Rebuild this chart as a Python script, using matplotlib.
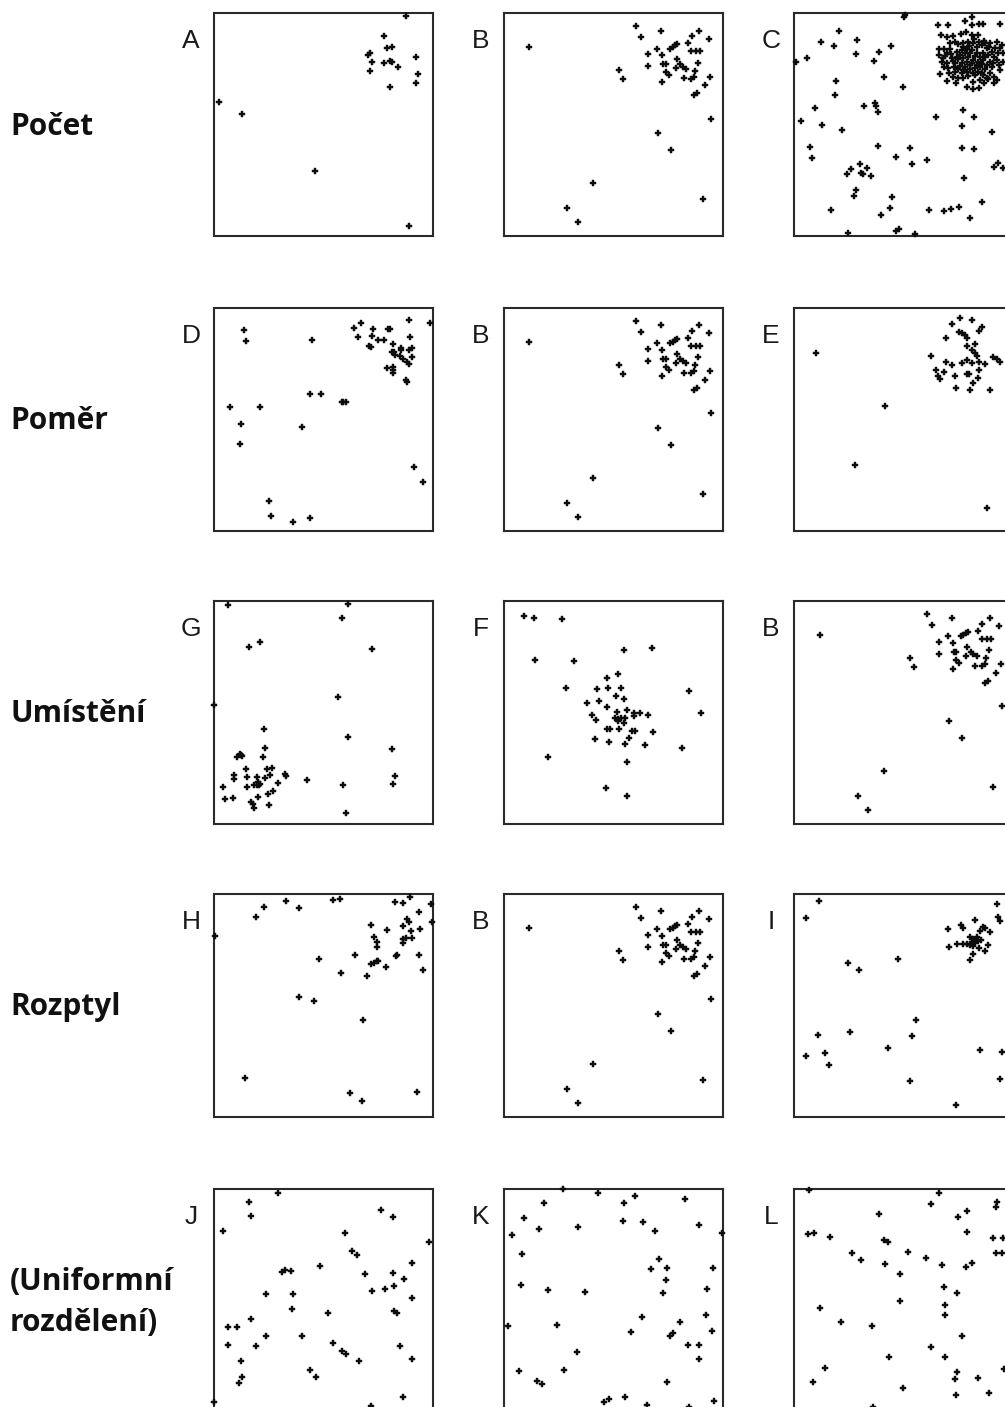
import matplotlib
matplotlib.use("Agg")
import matplotlib.pyplot as plt

row_labels = ["Počet", "Poměr", "Umístění", "Rozptyl", "(Uniformní\nrozdělení)"]
panel_grid = [["A", "B", "C"],
              ["D", "B", "E"],
              ["G", "F", "B"],
              ["H", "B", "I"],
              ["J", "K", "L"]]

A_pts = [(588, 18), (521, 78), (530, 115), (547, 110), (474, 135), (480, 130), (487, 157),
         (521, 160), (541, 153), (547, 157), (565, 170), (617, 140), (481, 183), (625, 191),
         (617, 220), (539, 231), (28, 277), (96, 312), (315, 484), (598, 647)]

B_pts = [(408, 49), (483, 62), (597, 62), (424, 82), (575, 78), (626, 86), (88, 111), (563, 99),
         (472, 116), (510, 116), (518, 112), (526, 106), (532, 102), (445, 132), (486, 136),
         (573, 124), (588, 124), (600, 124), (530, 148), (444, 168), (490, 162), (497, 162),
         (541, 163), (548, 170), (558, 176), (527, 174), (594, 158), (497, 186), (506, 196),
         (586, 182), (358, 181), (370, 207), (552, 205), (573, 206), (582, 200), (487, 215),
         (631, 200), (616, 225), (583, 256), (592, 250), (634, 326), (474, 369), (514, 421),
         (279, 519), (608, 568), (202, 594), (233, 637)]

C_pts = [(342, 20), (345, 15), (445, 45), (473, 45), (524, 32), (545, 20), (547, 45), (567, 43),
         (580, 41), (630, 43), (146, 63), (93, 96), (133, 107), (201, 91), (198, 131), (266, 127),
         (253, 152), (304, 107), (52, 143), (17, 156), (138, 213), (134, 254), (283, 202),
         (340, 232), (76, 295), (223, 287), (255, 278), (258, 288), (263, 305), (32, 333),
         (97, 345), (157, 359), (437, 321), (520, 300), (553, 322), (515, 347), (606, 367),
         (60, 411), (65, 445), (263, 409), (360, 413), (318, 440), (367, 463), (410, 449),
         (516, 413), (552, 417), (611, 471), (625, 459), (640, 473), (182, 478), (170, 492),
         (210, 461), (230, 475), (214, 489), (220, 492), (243, 497), (521, 504), (198, 539),
         (193, 557), (307, 562), (123, 599), (300, 594), (273, 614), (417, 600), (463, 604),
         (484, 597), (506, 590), (575, 576), (540, 623), (173, 668), (318, 662), (327, 658),
         (375, 673),
         # dense cluster
         (452, 75), (470, 80), (490, 78), (512, 72), (528, 65), (545, 75), (565, 76), (582, 92),
         (600, 100), (620, 95), (635, 105), (446, 116), (462, 118), (480, 100), (495, 95),
         (505, 103), (520, 98), (535, 95), (550, 100), (560, 110), (575, 105), (590, 115),
         (605, 125), (625, 130), (640, 128), (448, 135), (465, 138), (483, 132), (500, 125),
         (515, 120), (530, 118), (545, 120), (560, 130), (578, 130), (595, 135), (612, 140),
         (455, 155), (470, 160), (490, 152), (505, 148), (520, 145), (535, 140), (550, 150),
         (565, 155), (580, 150), (600, 155), (620, 150), (640, 155), (475, 175), (492, 170),
         (510, 168), (525, 170), (540, 165), (555, 175), (570, 170), (585, 178), (605, 172),
         (630, 180), (450, 192), (478, 190), (495, 185), (515, 188), (530, 185), (548, 190),
         (565, 185), (580, 195), (600, 190), (472, 212), (497, 218), (520, 205), (550, 215),
         (570, 210), (595, 208), (612, 220), (550, 238), (568, 233),
         (510, 135), (525, 130), (540, 130), (555, 138), (570, 140), (585, 142), (500, 140),
         (515, 158), (530, 155), (545, 160), (560, 165), (575, 162), (590, 165), (610, 160),
         (485, 145), (495, 160), (538, 108), (552, 88), (568, 95), (585, 100), (597, 112),
         (615, 115), (630, 115), (470, 130), (460, 145), (480, 118), (520, 112), (505, 178),
         (520, 180), (540, 178), (555, 195), (575, 188), (590, 205), (612, 200), (628, 165),
         (462, 170), (488, 200), (535, 198), (582, 218), (530, 230), (505, 205), (620, 210)]

D_pts = [(102, 82), (107, 114), (305, 110), (433, 74), (454, 59), (488, 79), (443, 103),
         (487, 99), (504, 112), (521, 110), (534, 78), (539, 79), (597, 50), (660, 60),
         (600, 101), (477, 130), (482, 133), (550, 122), (573, 134), (572, 142), (605, 134),
         (597, 141), (545, 148), (551, 146), (556, 155), (570, 160), (580, 168), (606, 162),
         (590, 178), (596, 184), (532, 196), (550, 192), (549, 200), (550, 210), (587, 230),
         (592, 236), (300, 272), (334, 273), (395, 296), (400, 297), (407, 297), (59, 313),
         (151, 312), (92, 363), (277, 373), (91, 423), (612, 493), (640, 537), (177, 594),
         (182, 638), (300, 646), (250, 657)]

E_pts = [(510, 44), (545, 52), (487, 63), (577, 71), (567, 84), (506, 88), (516, 90), (525, 96),
         (530, 105), (469, 106), (77, 151), (531, 130), (556, 122), (545, 140), (555, 150),
         (560, 158), (423, 160), (610, 163), (620, 168), (630, 178), (468, 176), (485, 186),
         (515, 180), (530, 170), (545, 180), (568, 177), (585, 184), (438, 202), (463, 206),
         (445, 218), (450, 228), (495, 218), (530, 212), (536, 212), (566, 200), (565, 226),
         (550, 239), (498, 254), (539, 261), (600, 261), (286, 309), (196, 487), (591, 614)]

G_pts = [(53, 24), (413, 22), (395, 64), (118, 149), (151, 136), (487, 156), (13, 325),
         (384, 300), (162, 396), (413, 421), (165, 452), (547, 457), (89, 470), (95, 478),
         (80, 480), (92, 475), (158, 480), (107, 516), (170, 517), (187, 514), (224, 531),
         (228, 537), (71, 534), (72, 546), (110, 540), (180, 535), (165, 543), (140, 540),
         (145, 555), (150, 560), (133, 564), (140, 563), (147, 563), (205, 557), (292, 548),
         (398, 564), (556, 536), (548, 561), (40, 569), (111, 569), (190, 583), (173, 592),
         (45, 606), (70, 604), (143, 600), (123, 615), (128, 620), (133, 634), (177, 623),
         (407, 648)]

F_pts = [(72, 57), (102, 64), (186, 67), (373, 160), (456, 153), (105, 188), (222, 191),
         (322, 243), (355, 231), (197, 272), (292, 275), (325, 274), (364, 273), (568, 281),
         (349, 298), (372, 305), (298, 312), (260, 318), (322, 329), (381, 340), (350, 346),
         (403, 348), (420, 348), (444, 354), (275, 354), (289, 368), (345, 362), (353, 366),
         (364, 363), (376, 362), (355, 372), (371, 378), (403, 357), (604, 348), (320, 396),
         (330, 396), (356, 396), (396, 401), (404, 403), (459, 405), (386, 423), (286, 426),
         (327, 436), (376, 441), (434, 443), (545, 453), (145, 480), (380, 494), (319, 572),
         (380, 597)]

H_pts = [(15, 137), (139, 81), (162, 52), (229, 34), (266, 55), (370, 31), (391, 27), (600, 21),
         (556, 37), (578, 39), (663, 41), (628, 65), (665, 97), (590, 87), (597, 96), (578, 108),
         (482, 105), (530, 120), (604, 123), (629, 118), (491, 141), (502, 157), (501, 170),
         (580, 148), (588, 143), (605, 143), (578, 160), (436, 195), (558, 197), (560, 196),
         (627, 194), (326, 207), (484, 221), (491, 219), (500, 214), (505, 212), (528, 230),
         (640, 239), (394, 248), (471, 258), (268, 320), (311, 334), (459, 390), (105, 565),
         (420, 608), (457, 634), (621, 606)]

I_pts = [(88, 32), (48, 85), (620, 43), (623, 82), (630, 94), (474, 116), (513, 106), (520, 113),
         (556, 90), (578, 110), (585, 115), (570, 122), (599, 126), (540, 142), (550, 148),
         (560, 140), (565, 152), (572, 150), (500, 163), (520, 163), (530, 163), (540, 165),
         (548, 168), (555, 160), (545, 155), (478, 172), (593, 165), (568, 175), (586, 184),
         (549, 193), (541, 211), (174, 218), (206, 240), (324, 208), (378, 391), (83, 436),
         (179, 425), (366, 438), (293, 474), (48, 497), (105, 488), (118, 524), (569, 481),
         (637, 485), (359, 573), (629, 566), (498, 645)]

J_pts = [(203, 27), (117, 53), (122, 97), (514, 77), (548, 98), (38, 140), (406, 147), (657, 173),
         (425, 200), (441, 214), (329, 245), (606, 238), (217, 264), (224, 257), (243, 260),
         (464, 270), (548, 267), (582, 286), (551, 305), (526, 316), (485, 320), (169, 330),
         (249, 330), (606, 342), (247, 374), (354, 388), (552, 381), (562, 387), (124, 405),
         (54, 428), (80, 430), (168, 455), (276, 457), (53, 482), (138, 485), (369, 477),
         (397, 500), (409, 509), (570, 486), (448, 531), (607, 524), (94, 530), (301, 558),
         (318, 578), (95, 578), (87, 596), (579, 640), (12, 655), (483, 665)]

K_pts = [(189, 14), (293, 27), (406, 35), (556, 45), (131, 58), (372, 58), (73, 103), (117, 135),
         (235, 128), (369, 112), (430, 115), (597, 123), (37, 152), (466, 142), (665, 146),
         (65, 211), (478, 225), (453, 254), (501, 253), (640, 252), (497, 288), (63, 304),
         (143, 318), (256, 323), (489, 327), (620, 314), (425, 398), (541, 413), (617, 392),
         (25, 425), (172, 422), (393, 444), (510, 456), (518, 448), (636, 441), (565, 483),
         (596, 482), (232, 503), (598, 525), (58, 561), (193, 559), (111, 592), (126, 601),
         (502, 594), (312, 653), (327, 646), (374, 638), (441, 664), (643, 652), (568, 668)]

L_pts = [(58, 17), (448, 27), (620, 53), (618, 69), (423, 61), (267, 89), (530, 80), (503, 98),
         (53, 150), (72, 147), (120, 159), (282, 169), (293, 175), (530, 144), (609, 162),
         (640, 163), (187, 208), (214, 229), (353, 204), (408, 221), (618, 208), (635, 208),
         (284, 240), (456, 244), (527, 250), (545, 236), (329, 271), (461, 310), (501, 326),
         (330, 352), (466, 362), (91, 373), (466, 392), (154, 413), (247, 426), (517, 455),
         (424, 490), (297, 518), (466, 520), (106, 553), (501, 563), (494, 585), (565, 581),
         (643, 555), (68, 593), (340, 611), (498, 633), (597, 626), (250, 668)]

panel_points = {"A": A_pts, "B": B_pts, "C": C_pts, "D": D_pts, "E": E_pts, "F": F_pts,
                "G": G_pts, "H": H_pts, "I": I_pts, "J": J_pts, "K": K_pts, "L": L_pts}

# origin of each panel's frame (top-left corner) in the digitising units
panel_origin = {"A": (12, 10), "B": (10, 10), "C": (12, 10), "D": (12, 15), "E": (12, 15),
                "F": (10, 12), "G": (12, 12), "H": (12, 12), "I": (12, 12), "J": (12, 15),
                "K": (10, 15), "L": (12, 15)}
FRAME_W, FRAME_H = 658, 668   # frame size in digitising units

# ---------------- layout (pixels) ----------------
W_PX, H_PX, DPI = 1005, 1407, 100
col_left = [214, 503.5, 794]
row_top = [13.3, 308, 601, 894, 1189]
ax_w, ax_h = 219.3, 222.7

fig = plt.figure(figsize=(W_PX / DPI, H_PX / DPI), dpi=DPI)
fig.patch.set_facecolor("white")

for r, row in enumerate(panel_grid):
    for c, name in enumerate(row):
        left = col_left[c] / W_PX
        bottom = 1 - (row_top[r] + ax_h) / H_PX
        ax = fig.add_axes([left, bottom, ax_w / W_PX, ax_h / H_PX])
        pts = panel_points[name]
        xs = [p[0] for p in pts]
        ys = [p[1] for p in pts]
        ax.scatter(xs, ys, s=17, marker="P", color="#0d0d0d", linewidths=0.3,
                   edgecolors="#0d0d0d", clip_on=False, zorder=3)
        ox, oy = panel_origin[name]
        ax.set_xlim(ox, ox + FRAME_W)
        ax.set_ylim(oy + FRAME_H, oy)
        ax.set_xticks([])
        ax.set_yticks([])
        for sp in ax.spines.values():
            sp.set_linewidth(1.5)
            sp.set_color("#2a2a2a")
        ax.text(-23 / ax_w, 1 - 28 / ax_h, name, transform=ax.transAxes, ha="center",
                va="center", fontsize=19, family="Liberation Sans", color="#1a1a1a",
                clip_on=False)

for r, lab in enumerate(row_labels):
    yc = row_top[r] + ax_h / 2 + 2
    fig.text(10 / W_PX, 1 - yc / H_PX, lab, ha="left", va="center", fontsize=21.5,
             fontweight="bold", family="Open Sans", color="#111111", linespacing=1.5)

fig.savefig("out.png", dpi=DPI, facecolor="white")
